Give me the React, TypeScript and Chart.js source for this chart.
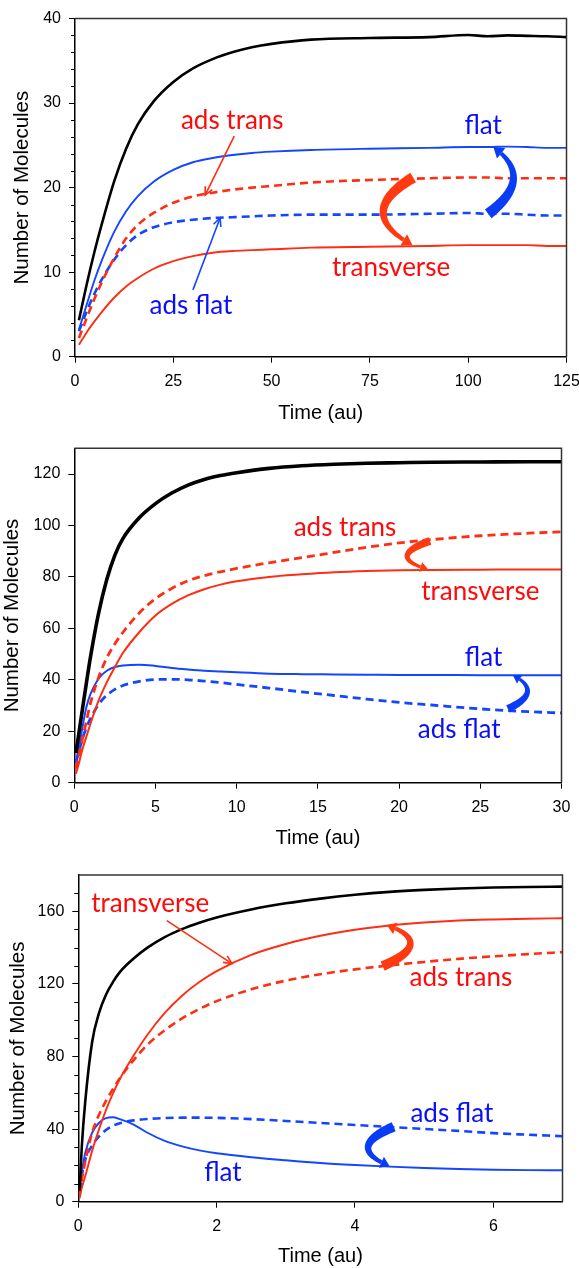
import React, { useEffect, useRef } from 'react';
import { Chart, registerables } from 'chart.js';
Chart.register(...registerables);

// ---------------- Chart 1 (0..125 au) ----------------
const T1 = [1, 3, 5, 7, 10, 13, 16, 20, 25, 30, 35, 40, 45, 50, 60, 75, 90, 100, 105, 110, 115, 120, 125];
const C1_TOTAL = [4.3, 8.6, 12.5, 16.0, 20.8, 24.6, 27.5, 30.2, 32.5, 34.1, 35.2, 36.0, 36.6, 37.0, 37.5, 37.7, 37.8, 38.05, 37.9, 38.0, 37.95, 37.9, 37.8];
const C1_FLAT = [3.2, 6.2, 9.1, 11.6, 14.8, 17.2, 19.0, 20.7, 22.1, 23.0, 23.5, 23.85, 24.1, 24.25, 24.45, 24.6, 24.7, 24.8, 24.8, 24.85, 24.8, 24.7, 24.7];
const C1_ADS_TRANS = [2.2, 4.6, 6.9, 9.0, 11.7, 14.0, 15.6, 17.0, 18.2, 18.95, 19.4, 19.75, 20.0, 20.2, 20.6, 20.9, 21.1, 21.2, 21.2, 21.1, 21.1, 21.1, 21.1];
const C1_ADS_FLAT = [3.0, 5.4, 7.5, 9.3, 11.5, 13.2, 14.4, 15.3, 15.9, 16.2, 16.4, 16.5, 16.6, 16.7, 16.8, 16.8, 16.9, 17.0, 16.9, 16.9, 16.8, 16.7, 16.7];
const C1_TRANSVERSE = [1.4, 2.9, 4.2, 5.4, 7.0, 8.3, 9.3, 10.4, 11.3, 11.9, 12.3, 12.5, 12.6, 12.7, 12.9, 13.0, 13.1, 13.2, 13.2, 13.2, 13.2, 13.1, 13.1];
const C1_MINOR_Y = [2, 4, 6, 8, 12, 14, 16, 18, 22, 24, 26, 28, 32, 34, 36, 38];

// ---------------- Chart 2 (0..30 au) ----------------
const T2 = [0.1, 0.3, 0.5, 0.75, 1, 1.5, 2, 2.5, 3, 4, 5, 6, 7, 8, 9, 10, 12, 14, 16, 18, 20, 22, 25, 28, 30];
const C2_TOTAL = [11.5, 20, 28.5, 39, 49, 66, 79, 88.5, 95, 103, 108.5, 112.6, 115.7, 117.9, 119.4, 120.5, 122.2, 123.2, 123.8, 124.2, 124.4, 124.6, 124.7, 124.8, 124.8];
const C2_ADS_TRANS = [5.5, 11, 17, 24, 31, 41, 48.5, 54, 58.5, 66, 71.5, 75.5, 78.5, 80.5, 82, 83.3, 85.5, 87.5, 89.5, 91.5, 93.2, 94.5, 96, 97, 97.5];
const C2_TRANSVERSE = [3.5, 8, 13, 18, 23, 32, 39, 45, 50.5, 58.5, 65, 69.5, 72.8, 75.2, 77, 78.3, 80, 81, 81.8, 82.3, 82.6, 82.7, 82.8, 82.9, 82.9];
const C2_FLAT = [7.5, 14, 21.5, 29.5, 34.5, 40.5, 43.5, 45, 45.6, 45.9, 45.4, 44.6, 44, 43.5, 43.2, 42.9, 42.4, 42.2, 42.1, 42, 41.9, 41.9, 41.8, 41.8, 41.8];
const C2_ADS_FLAT = [8, 12.5, 17, 21.5, 25, 30.5, 34, 36.3, 37.8, 39.4, 40.1, 40.2, 40, 39.5, 38.9, 38.2, 36.8, 35.3, 33.9, 32.5, 31.2, 30.2, 28.7, 27.6, 27.1];

// ---------------- Chart 3 (0..7 au) ----------------
const T3 = [0.02, 0.05, 0.1, 0.2, 0.3, 0.4, 0.5, 0.6, 0.8, 1, 1.25, 1.5, 1.75, 2, 2.5, 3, 3.5, 4, 4.5, 5, 5.5, 6, 6.5, 7];
const C3_TOTAL = [6, 30, 55, 88, 104, 114, 121, 126.5, 134, 140, 145.8, 150.2, 153.7, 156.6, 161, 164.4, 167, 169.1, 170.7, 171.8, 172.6, 173.1, 173.4, 173.6];
const C3_TRANSVERSE = [2, 7.5, 14, 28, 40, 50.5, 59.5, 67.5, 80.5, 92, 104, 113.5, 121, 127, 136, 142, 146.5, 149.8, 152.2, 153.8, 154.9, 155.5, 155.9, 156.2];
const C3_ADS_TRANS = [4, 12, 22, 38, 48, 55.5, 62, 68, 78, 86.5, 94.5, 101, 106.2, 110.5, 117, 121.8, 125.3, 128, 130.2, 132.1, 133.8, 135.2, 136.4, 137.5];
const C3_FLAT = [8, 16, 27, 38, 43.5, 46, 46.5, 45.5, 42.5, 38, 33.5, 30.5, 28.3, 26.7, 24.5, 22.8, 21.3, 20.2, 19.3, 18.6, 18, 17.6, 17.4, 17.3];
const C3_ADS_FLAT = [6, 14, 23, 31, 36, 39.5, 41.8, 43.2, 44.8, 45.6, 46.1, 46.3, 46.3, 46.2, 45.5, 44.5, 43.4, 42.3, 41.2, 40.1, 39, 37.8, 36.9, 36.1];
const C3_MINOR_Y = [10, 20, 30, 50, 60, 70, 90, 100, 110, 130, 140, 150, 170];

const X_TITLE = 'Time (au)';
const Y_TITLE = 'Number of Molecules';

const BLACK = '#000000';
const RED = '#ff2d12';
const BLUE = '#1445ff';
const RED_TXT = '#ff0a0a';
const BLUE_TXT = '#0a10f5';
const RED_ARROW = '#ff3a10';
const BLUE_ARROW = '#0b3cf5';

type P = [number, number];
interface Ann {
  texts: { t: string; p: P; c: string }[];
  lines: { a: P; b: P; c: string }[];
  curves: { tail: P; mid: P; head: P; c: string; w0: number; w1: number; hl: number; hw: number }[];
  minorY: number[];
}

interface Spec {
  xs: number[];
  series: { d: number[]; c: string; w: number; dash?: number[] }[];
  xMax: number; xStep: number; yMax: number; yStep: number;
  canvasH: number;
  plot: { left: number; right: number; top: number; bottom: number };
  yTitlePad: number;
  ann: Ann;
}

type Pt = { x: number; y: number };

function curvedArrow(ctx: CanvasRenderingContext2D, t: Pt, m: Pt, h: Pt, w0: number, w1: number, hl: number, hw: number, color: string) {
  const c = { x: 2 * m.x - (t.x + h.x) / 2, y: 2 * m.y - (t.y + h.y) / 2 };
  const B = (s: number) => ({
    x: (1 - s) * (1 - s) * t.x + 2 * (1 - s) * s * c.x + s * s * h.x,
    y: (1 - s) * (1 - s) * t.y + 2 * (1 - s) * s * c.y + s * s * h.y,
  });
  const D = (s: number) => ({
    x: 2 * (1 - s) * (c.x - t.x) + 2 * s * (h.x - c.x),
    y: 2 * (1 - s) * (c.y - t.y) + 2 * s * (h.y - c.y),
  });
  let sEnd = 0.8;
  for (let s = 1; s > 0; s -= 0.002) {
    const p = B(s);
    if (Math.hypot(p.x - h.x, p.y - h.y) >= hl) { sEnd = s; break; }
  }
  const N = 50;
  const L: Pt[] = [];
  const R: Pt[] = [];
  for (let i = 0; i <= N; i++) {
    const s = (sEnd * i) / N;
    const p = B(s);
    const d = D(s);
    const len = Math.hypot(d.x, d.y) || 1;
    const nx = -d.y / len, ny = d.x / len;
    const w = (w0 + (w1 - w0) * (i / N)) / 2;
    L.push({ x: p.x + nx * w, y: p.y + ny * w });
    R.push({ x: p.x - nx * w, y: p.y - ny * w });
  }
  ctx.fillStyle = color;
  ctx.beginPath();
  L.forEach((p, i) => (i ? ctx.lineTo(p.x, p.y) : ctx.moveTo(p.x, p.y)));
  for (let i = R.length - 1; i >= 0; i--) ctx.lineTo(R[i].x, R[i].y);
  ctx.closePath();
  ctx.fill();
  const b = B(sEnd);
  const dx = h.x - b.x, dy = h.y - b.y;
  const len = Math.hypot(dx, dy) || 1;
  const nx = -dy / len, ny = dx / len;
  ctx.beginPath();
  ctx.moveTo(h.x, h.y);
  ctx.lineTo(b.x + (nx * hw) / 2, b.y + (ny * hw) / 2);
  ctx.lineTo(b.x - (nx * hw) / 2, b.y - (ny * hw) / 2);
  ctx.closePath();
  ctx.fill();
}

function lineArrow(ctx: CanvasRenderingContext2D, a: Pt, b: Pt, color: string) {
  ctx.strokeStyle = color;
  ctx.lineWidth = 1.6;
  ctx.beginPath();
  ctx.moveTo(a.x, a.y);
  ctx.lineTo(b.x, b.y);
  ctx.stroke();
  const ang = Math.atan2(b.y - a.y, b.x - a.x);
  const hl = 9;
  ctx.beginPath();
  ctx.moveTo(b.x - hl * Math.cos(ang - 0.45), b.y - hl * Math.sin(ang - 0.45));
  ctx.lineTo(b.x, b.y);
  ctx.lineTo(b.x - hl * Math.cos(ang + 0.45), b.y - hl * Math.sin(ang + 0.45));
  ctx.stroke();
}

function annPlugin(a: Ann) {
  return {
    id: 'ann',
    afterDatasetsDraw(chart: any) {
      const { ctx, chartArea: ca } = chart;
      const xs = chart.scales.x, ys = chart.scales.y;
      const px = (p: P): Pt => ({ x: xs.getPixelForValue(p[0]), y: ys.getPixelForValue(p[1]) });
      ctx.save();
      ctx.strokeStyle = '#333333';
      ctx.lineWidth = 1.5;
      ctx.beginPath();
      ctx.moveTo(ca.left, ca.top);
      ctx.lineTo(ca.right, ca.top);
      ctx.lineTo(ca.right, ca.bottom);
      ctx.stroke();
      ctx.strokeStyle = '#000';
      ctx.lineWidth = 1;
      for (const v of a.minorY) {
        const yy = Math.round(ys.getPixelForValue(v)) + 0.5;
        ctx.beginPath();
        ctx.moveTo(ca.left - 4, yy);
        ctx.lineTo(ca.left, yy);
        ctx.stroke();
      }
      for (const l of a.lines) lineArrow(ctx, px(l.a), px(l.b), l.c);
      for (const c of a.curves) curvedArrow(ctx, px(c.tail), px(c.mid), px(c.head), c.w0, c.w1, c.hl, c.hw, c.c);
      ctx.font = '26px Lato, "Open Sans", sans-serif';
      ctx.textAlign = 'center';
      ctx.textBaseline = 'middle';
      for (const t of a.texts) {
        const p = px(t.p);
        ctx.fillStyle = t.c;
        ctx.fillText(t.t, p.x, p.y);
      }
      ctx.restore();
    },
  };
}

function buildConfig(s: Spec, W: number): any {
  const fontFam = '"Liberation Sans", Arial, sans-serif';
  return {
    type: 'line',
    data: {
      datasets: s.series.map((se) => ({
        data: s.xs.map((x, i) => ({ x, y: se.d[i] })),
        borderColor: se.c,
        borderWidth: se.w,
        borderDash: se.dash || [],
        pointRadius: 0,
        fill: false,
        cubicInterpolationMode: 'monotone',
      })),
    },
    options: {
      responsive: false,
      animation: false,
      events: [],
      layout: { padding: { left: 0, top: s.plot.top, right: W - s.plot.right, bottom: 0 } },
      plugins: { legend: { display: false }, tooltip: { enabled: false } },
      scales: {
        x: {
          type: 'linear',
          min: 0,
          max: s.xMax,
          afterBuildTicks: (sc: any) => { sc.ticks = sc.ticks.filter((t: any) => Math.abs(t.value / s.xStep - Math.round(t.value / s.xStep)) < 1e-6); },
          afterFit: (sc: any) => { sc.height = s.canvasH - s.plot.bottom; sc.paddingLeft = 0; sc.paddingRight = 0; },
          ticks: { stepSize: s.xStep, color: '#000', font: { family: fontFam, size: 16 }, padding: 9, maxRotation: 0, autoSkip: false },
          grid: { drawOnChartArea: false, drawTicks: true, tickLength: 6, color: '#000', lineWidth: 1 },
          border: { display: true, color: '#000', width: 1.5 },
          title: { display: true, text: X_TITLE, color: '#000', font: { family: fontFam, size: 20 }, padding: { top: 0, bottom: 0 } },
        },
        y: {
          type: 'linear',
          min: 0,
          max: s.yMax,
          afterBuildTicks: (sc: any) => { sc.ticks = sc.ticks.filter((t: any) => Math.abs(t.value / s.yStep - Math.round(t.value / s.yStep)) < 1e-6); },
          afterFit: (sc: any) => { sc.width = s.plot.left; sc.paddingTop = 0; sc.paddingBottom = 0; },
          ticks: { stepSize: s.yStep, color: '#000', font: { family: fontFam, size: 16 }, padding: 8, autoSkip: false },
          grid: { drawOnChartArea: false, drawTicks: true, tickLength: 6, color: '#000', lineWidth: 1 },
          border: { display: true, color: '#000', width: 1.5 },
          title: { display: true, text: Y_TITLE, color: '#000', font: { family: fontFam, size: 20.5 }, padding: { top: s.yTitlePad, bottom: 0 } },
        },
      },
    },
    plugins: [annPlugin(s.ann)],
  };
}

const W = 579;

const SPEC1: Spec = {
  xs: T1,
  series: [
    { d: C1_TOTAL, c: BLACK, w: 2.6 },
    { d: C1_FLAT, c: BLUE, w: 1.9 },
    { d: C1_ADS_TRANS, c: RED, w: 2.6, dash: [8, 5] },
    { d: C1_ADS_FLAT, c: BLUE, w: 2.6, dash: [8, 5] },
    { d: C1_TRANSVERSE, c: RED, w: 1.9 },
  ],
  xMax: 125, xStep: 25, yMax: 40, yStep: 10,
  canvasH: 425,
  plot: { left: 75, right: 566.5, top: 18.5, bottom: 356.7 },
  yTitlePad: 10,
  ann: {
    texts: [
      { t: 'ads trans', p: [40, 27.9], c: RED_TXT },
      { t: 'ads flat', p: [29.5, 6.1], c: BLUE_TXT },
      { t: 'flat', p: [103.8, 27.3], c: BLUE_TXT },
      { t: 'transverse', p: [80.4, 10.5], c: RED_TXT },
    ],
    lines: [
      { a: [40.5, 26.1], b: [33.1, 19.1], c: RED },
      { a: [30, 7.9], b: [36.9, 16.4], c: BLUE },
    ],
    curves: [
      { tail: [105.1, 16.9], mid: [111.5, 21.0], head: [106.4, 24.8], c: BLUE_ARROW, w0: 11, w1: 4, hl: 10, hw: 13 },
      { tail: [86.0, 21.2], mid: [78.4, 17.1], head: [85.8, 13.2], c: RED_ARROW, w0: 11, w1: 4, hl: 10, hw: 13 },
    ],
    minorY: C1_MINOR_Y,
  },
};

const SPEC2: Spec = {
  xs: T2,
  series: [
    { d: C2_TOTAL, c: BLACK, w: 3.6 },
    { d: C2_ADS_TRANS, c: RED, w: 2.8, dash: [8, 5] },
    { d: C2_TRANSVERSE, c: RED, w: 2 },
    { d: C2_FLAT, c: BLUE, w: 2 },
    { d: C2_ADS_FLAT, c: BLUE, w: 2.8, dash: [8, 5] },
  ],
  xMax: 30, xStep: 5, yMax: 130, yStep: 20,
  canvasH: 425,
  plot: { left: 74.3, right: 561.5, top: 23.3, bottom: 357.7 },
  yTitlePad: 0.5,
  ann: {
    texts: [
      { t: 'ads trans', p: [16.67, 99], c: RED_TXT },
      { t: 'transverse', p: [25.0, 74.1], c: RED_TXT },
      { t: 'flat', p: [25.2, 48.5], c: BLUE_TXT },
      { t: 'ads flat', p: [23.7, 20.5], c: BLUE_TXT },
    ],
    lines: [],
    curves: [
      { tail: [21.9, 94], mid: [20.5, 88.1], head: [21.8, 82.9], c: RED_ARROW, w0: 8, w1: 3, hl: 8, hw: 10 },
      { tail: [26.7, 28.7], mid: [27.9, 35.3], head: [27.0, 41.9], c: BLUE_ARROW, w0: 8, w1: 3, hl: 8, hw: 10 },
    ],
    minorY: [],
  },
};

const SPEC3: Spec = {
  xs: T3,
  series: [
    { d: C3_TOTAL, c: BLACK, w: 2.6 },
    { d: C3_TRANSVERSE, c: RED, w: 1.9 },
    { d: C3_ADS_TRANS, c: RED, w: 2.6, dash: [8, 5] },
    { d: C3_FLAT, c: BLUE, w: 1.9 },
    { d: C3_ADS_FLAT, c: BLUE, w: 2.6, dash: [8, 5] },
  ],
  xMax: 7, xStep: 2, yMax: 180, yStep: 40,
  canvasH: 418,
  plot: { left: 78.3, right: 562.5, top: 25, bottom: 351.7 },
  yTitlePad: 5.7,
  ann: {
    texts: [
      { t: 'transverse', p: [1.04, 164.3], c: RED_TXT },
      { t: 'ads trans', p: [5.53, 123.5], c: RED_TXT },
      { t: 'ads flat', p: [5.40, 48.8], c: BLUE_TXT },
      { t: 'flat', p: [2.09, 16.3], c: BLUE_TXT },
    ],
    lines: [{ a: [1.28, 154.9], b: [2.22, 131.2], c: RED }],
    curves: [
      { tail: [4.40, 129.8], mid: [4.80, 142], head: [4.46, 152.5], c: RED_ARROW, w0: 10, w1: 4, hl: 9, hw: 12 },
      { tail: [4.56, 41.3], mid: [4.19, 30.2], head: [4.50, 19.6], c: BLUE_ARROW, w0: 10, w1: 4, hl: 9, hw: 12 },
    ],
    minorY: C3_MINOR_Y,
  },
};

function ChartCanvas({ spec, top }: { spec: Spec; top: number }) {
  const ref = useRef<HTMLCanvasElement | null>(null);
  useEffect(() => {
    if (!ref.current) return;
    const chart = new Chart(ref.current, buildConfig(spec, W));
    return () => chart.destroy();
  }, [spec]);
  return (
    <canvas
      ref={ref}
      width={W}
      height={spec.canvasH}
      style={{ position: 'absolute', left: 0, top, width: W, height: spec.canvasH, display: 'block' }}
    />
  );
}

export default function App() {
  return (
    <div style={{ position: 'absolute', left: 0, top: 0, width: W, height: 1268, background: '#fff', overflow: 'hidden' }}>
      <ChartCanvas spec={SPEC1} top={0} />
      <ChartCanvas spec={SPEC2} top={425} />
      <ChartCanvas spec={SPEC3} top={850} />
    </div>
  );
}
